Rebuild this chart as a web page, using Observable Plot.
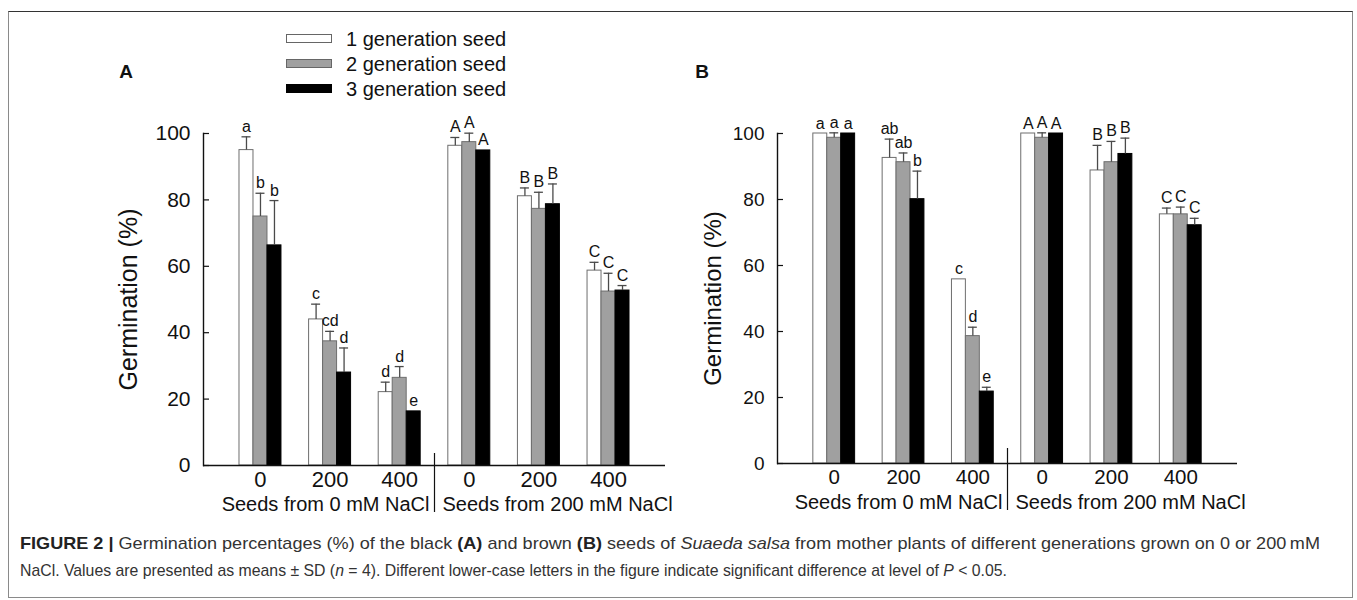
<!DOCTYPE html>
<html>
<head>
<meta charset="utf-8">
<script src="https://cdn.jsdelivr.net/npm/d3@7"></script>
<script src="https://cdn.jsdelivr.net/npm/@observablehq/plot@0.6"></script>
<style>
  body { margin: 0; background: #fff; font-family: "Liberation Sans", Arial, sans-serif; }
  #fig { position: relative; width: 1357px; height: 600px; overflow: hidden; background: #fff; }
  #border { position: absolute; left: 8px; top: 11px; width: 1345px; height: 587px; border: 1px solid #8a8a8a; border-top-color: #333; box-sizing: border-box; }
  .chart { position: absolute; top: 0; }
  .plabel { position: absolute; font-weight: bold; font-size: 19px; color: #111; transform: translate(-50%, -50%); }
  .legend { position: absolute; left: 286px; top: 26px; }
  .lrow { position: relative; height: 25px; display: flex; align-items: center; }
  .sw { width: 46px; height: 9px; box-sizing: border-box; border: 1px solid #666; margin-right: 14px; }
  .ltxt { font-size: 20px; color: #111; line-height: 20px; }
  .cap { position: absolute; left: 20px; font-family: "Liberation Sans Narrow", "Liberation Sans", Arial, sans-serif; font-size: 17px; color: #333; white-space: nowrap; transform-origin: 0 50%; }
  .cap b { color: #222; }
</style>
</head>
<body>
<div id="fig">
  <div id="border"></div>
  <div id="chartA" class="chart" style="left:0px"></div>
  <div id="chartB" class="chart" style="left:680px"></div>
  <div class="plabel" style="left:126px; top:72px">A</div>
  <div class="plabel" style="left:702px; top:72px">B</div>
  <div class="legend" id="legend"></div>
  <div class="cap" id="cap1" style="top:534px"><b>FIGURE 2 |</b> Germination percentages (%) of the black <b>(A)</b> and brown <b>(B)</b> seeds of <i>Suaeda salsa</i> from mother plants of different generations grown on 0 or 200&#8201;mM</div>
  <div class="cap" id="cap2" style="top:561px">NaCl. Values are presented as means ± SD (<i>n</i> = 4). Different lower-case letters in the figure indicate significant difference at level of <i>P</i> &lt; 0.05.</div>
</div>
<script>
// ---------- data ----------
const groupKeys = ["L0", "L200", "L400", "R0", "R200", "R400"];
const groupLabels = ["0", "200", "400", "0", "200", "400"];
const sourceLabels = ["Seeds from 0 mM NaCl", "Seeds from 200 mM NaCl"];
const seriesNames = ["1 generation seed", "2 generation seed", "3 generation seed"];
const yTicks = [0, 20, 40, 60, 80, 100];
const yTitle = "Germination (%)";

// Panel A (black seeds)
const aGen1 = [95.0, 44.0, 22.1, 96.3, 81.1, 58.7];
const aGen1Sd = [4.0, 4.6, 3.0, 2.5, 2.5, 2.5];
const aGen1Letters = ["a", "c", "d", "A", "B", "C"];
const aGen2 = [75.0, 37.4, 26.4, 97.4, 77.3, 52.4];
const aGen2Sd = [7.0, 3.0, 3.4, 2.7, 5.0, 5.5];
const aGen2Letters = ["b", "cd", "d", "A", "B", "C"];
const aGen3 = [66.3, 28.0, 16.3, 94.9, 78.7, 52.7];
const aGen3Sd = [13.5, 7.4, 0, 0, 6.1, 1.5];
const aGen3Letters = ["b", "d", "e", "A", "B", "C"];

// Panel B (brown seeds)
const bGen1 = [100, 92.6, 55.8, 100, 88.8, 75.5];
const bGen1Sd = [0, 5.7, 0, 0, 7.6, 1.9];
const bGen1Letters = ["a", "ab", "c", "A", "B", "C"];
const bGen2 = [98.7, 91.3, 38.6, 98.7, 91.3, 75.5];
const bGen2Sd = [1.5, 2.8, 2.7, 1.5, 6.3, 2.2];
const bGen2Letters = ["a", "ab", "d", "A", "B", "C"];
const bGen3 = [100, 80.1, 21.8, 100, 93.8, 72.2];
const bGen3Sd = [0, 8.5, 1.3, 0, 4.8, 2.1];
const bGen3Letters = ["a", "b", "e", "A", "B", "C"];

// ---------- styles ----------
const fills = ["#ffffff", "#a0a0a0", "#000000"];
const strokes = ["#6e6e6e", "#6e6e6e", "#000000"];
const labelOf = Object.fromEntries(groupKeys.map((k, i) => [k, groupLabels[i]]));

function buildRows(vals, sds, letters) {
  const rows = [];
  seriesNames.forEach((s, si) => {
    groupKeys.forEach((k, gi) => {
      rows.push({series: s, key: k, value: vals[si][gi], sd: sds[si][gi], letter: letters[si][gi]});
    });
  });
  return rows;
}
const rowsA = buildRows([aGen1, aGen2, aGen3], [aGen1Sd, aGen2Sd, aGen3Sd], [aGen1Letters, aGen2Letters, aGen3Letters]);
const rowsB = buildRows([bGen1, bGen2, bGen3], [bGen1Sd, bGen2Sd, bGen3Sd], [bGen1Letters, bGen2Letters, bGen3Letters]);

function panel(rows, o) {
  const n = groupKeys.length;
  const pIn = 0.799, pOut = 0.718;
  const plotW = o.width - o.marginLeft - o.marginRight;
  const step = plotW / (n - pIn + 2 * pOut);
  const bw = step * (1 - pIn);
  const marks = [];
  seriesNames.forEach((s, i) => {
    const d = rows.filter(r => r.series === s);
    const e = d.filter(r => r.sd > 0);
    const dx = (i - 1) * bw;
    marks.push(Plot.barY(d, {x: "key", y: "value", fill: fills[i], stroke: strokes[i], strokeWidth: 1, dx}));
    marks.push(Plot.ruleX(e, {x: "key", y1: "value", y2: r => r.value + r.sd, dx, stroke: "#4a4a4a", strokeWidth: 1.3}));
    marks.push(Plot.tickY(e, {x: "key", y: r => r.value + r.sd, dx, stroke: "#4a4a4a", strokeWidth: 1.3, insetLeft: 2.5, insetRight: 2.5}));
    marks.push(Plot.text(d, {x: "key", y: r => r.value + r.sd, text: "letter", dx, dy: -5, lineAnchor: "bottom", fontSize: o.letterFont, fill: "#111"}));
  });
  return Plot.plot({
    width: o.width,
    height: o.height,
    marginLeft: o.marginLeft,
    marginRight: o.marginRight,
    marginTop: o.marginTop,
    marginBottom: o.marginBottom,
    style: {fontFamily: '"Liberation Sans", Arial, sans-serif', fontSize: "20px", color: "#111", background: "none", overflow: "visible"},
    x: {type: "band", domain: groupKeys, paddingInner: pIn, paddingOuter: pOut, round: false},
    y: {domain: [0, 100]},
    marks: [
      ...marks,
      Plot.ruleY([0], {stroke: "#111", strokeWidth: 1.4}),
      Plot.frame({anchor: "left", stroke: "#111", strokeWidth: 1.4}),
      Plot.axisY(yTicks, {tickSize: -6, fill: "none", label: null, stroke: "#111", strokeWidth: 1.2}),
      Plot.axisY(yTicks, {tickSize: 0, tickPadding: 13, fontSize: o.yFont, label: null, fill: "#111"}),
      Plot.axisX({tickSize: 0, tickPadding: 6, fontSize: o.xFont, tickFormat: k => labelOf[k], label: null, fill: "#111"}),
      Plot.ruleX([groupKeys[2]], {x: d => d, dx: step / 2, insetTop: o.sepTop, insetBottom: -47, stroke: "#111", strokeWidth: 1.2}),
      Plot.text([sourceLabels[0]], {x: () => groupKeys[2], frameAnchor: "bottom", dx: step / 2 - 5, dy: 45, textAnchor: "end", lineAnchor: "bottom", fontSize: o.srcFont, fill: "#111"}),
      Plot.text([sourceLabels[1]], {x: () => groupKeys[3], frameAnchor: "bottom", dx: -step / 2 + 8, dy: 45, textAnchor: "start", lineAnchor: "bottom", fontSize: o.srcFont, fill: "#111"}),
      Plot.text([yTitle], {frameAnchor: "left", rotate: -90, dx: -o.titleOffset, lineAnchor: "middle", textAnchor: "middle", fontSize: o.titleFont, fill: "#111"})
    ]
  });
}

document.getElementById("chartA").append(panel(rowsA, {
  width: 680, height: 520, marginLeft: 203, marginRight: 15, marginTop: 133, marginBottom: 55,
  letterFont: 16, yFont: 21, xFont: 22, srcFont: 20, titleFont: 25, titleOffset: 75, sepTop: 320
}));
document.getElementById("chartB").append(panel(rowsB, {
  width: 577, height: 520, marginLeft: 97, marginRight: 20, marginTop: 133, marginBottom: 57,
  letterFont: 16, yFont: 19, xFont: 20.5, srcFont: 20, titleFont: 24, titleOffset: 64, sepTop: 315
}));

// legend
const legend = document.getElementById("legend");
seriesNames.forEach((s, i) => {
  const row = document.createElement("div");
  row.className = "lrow";
  const sw = document.createElement("div");
  sw.className = "sw";
  sw.style.background = fills[i];
  sw.style.borderColor = i === 2 ? "#000" : "#666";
  const t = document.createElement("span");
  t.className = "ltxt";
  t.textContent = s;
  row.append(sw, t);
  legend.append(row);
});

// caption width fit (condensed look)
const c1 = document.getElementById("cap1"), c2 = document.getElementById("cap2");
c1.style.transform = `scaleX(${1300 / c1.getBoundingClientRect().width})`;
c2.style.transform = `scaleX(${987 / c2.getBoundingClientRect().width})`;
</script>
</body>
</html>
